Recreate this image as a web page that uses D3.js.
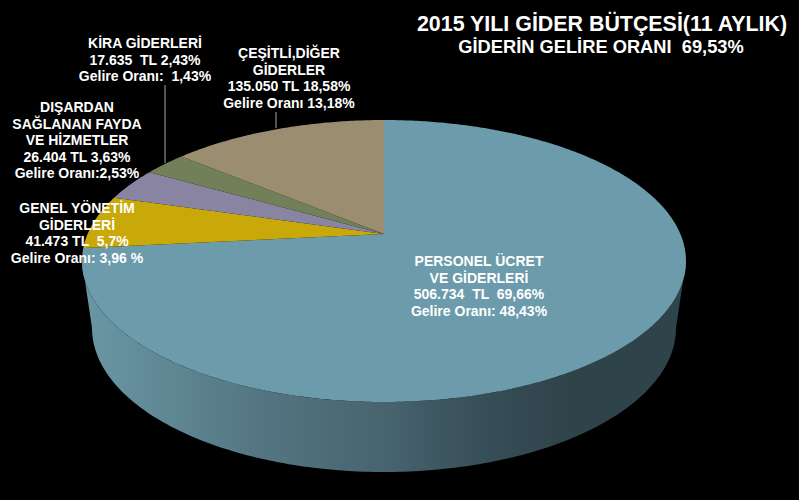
<!DOCTYPE html>
<html>
<head>
<meta charset="utf-8">
<script src="https://cdn.jsdelivr.net/npm/d3@7"></script>
<style>
  html, body { margin: 0; padding: 0; background: #000; }
  text { font-family: "Liberation Sans", Arial, sans-serif; fill: #fff; white-space: pre; }
</style>
</head>
<body>
<div id="chart-area"></div>
<script>
let categories = ["PERSONEL", "GENEL", "DISARDAN", "KIRA", "CESITLI"]
// wedge shares as drawn in the picture (they differ a bit from the printed percentages)
let shares = [73.39, 6.14, 3.78, 2.75, 13.94]
let colors = ["#6c9bab", "#c9a90a", "#8a84a3", "#728059", "#9b8e70"]

let titleLines = ["2015 YILI GİDER BÜTÇESİ(11 AYLIK)", "GİDERİN GELİRE ORANI  69,53%"]
let labelLines = [
    ["PERSONEL ÜCRET", "VE GİDERLERİ", "506.734  TL  69,66%", "Gelire Oranı: 48,43%"],
    ["GENEL YÖNETİM", "GİDERLERİ", "41.473 TL  5,7%", "Gelire Oranı: 3,96 %"],
    ["DIŞARDAN", "SAĞLANAN FAYDA", "VE HİZMETLER", "26.404 TL 3,63%", "Gelire Oranı:2,53%"],
    ["KİRA GİDERLERİ", "17.635  TL 2,43%", "Gelire Oranı:  1,43%"],
    ["ÇEŞİTLİ,DİĞER", "GİDERLER", "135.050 TL 18,58%", "Gelire Oranı 13,18%"]
]

let width = 799
let height = 500

// where each label block goes: centre x, y of first line
let labelPos = [[479, 261], [77, 208], [77, 107], [145, 43], [289, 53]]
let leaders = [[165, 85, 165, 163], [276, 112, 276, 128]]
let lineGap = 16.6

// perspective of the pie top: apex is above the middle of the ellipse
let apexX = 384, apexY = 234
let k = 0.1915, a = 296.4, b = 135.8

function project(angle, r) {
    let u = Math.sin(angle) * r
    let v = Math.cos(angle) * r
    let w = 1 + k * v
    return [apexX + a * u / w, apexY - b * v / w]
}

let svg = d3.select("#chart-area")
            .append("svg")
            .attr("width", width)
            .attr("height", height)
            .style("display", "block")

let defs = svg.append("defs")
let grad = defs.append("linearGradient")
            .attr("id", "wall")
            .attr("gradientUnits", "userSpaceOnUse")
            .attr("x1", 82).attr("x2", 686).attr("y1", 0).attr("y2", 0)
grad.append("stop").attr("offset", "0").attr("stop-color", "#6a97a5")
grad.append("stop").attr("offset", "0.3").attr("stop-color", "#537581")
grad.append("stop").attr("offset", "0.5").attr("stop-color", "#47646f")
grad.append("stop").attr("offset", "0.65").attr("stop-color", "#38505a")
grad.append("stop").attr("offset", "0.8").attr("stop-color", "#2f434a")
grad.append("stop").attr("offset", "1").attr("stop-color", "#2f434a")

let line = d3.line()

// side wall: front half of the top rim joined to the front half of the base rim
let rimAngles = d3.range(90, 270.5, 1).map(d => d * Math.PI / 180)
let topRim = rimAngles.map(t => [384 + 302 * Math.sin(t), 261 - 141 * Math.cos(t)])
let baseRim = rimAngles.map(t => [384 + 292 * Math.sin(t), 328 - 144 * Math.cos(t)]).reverse()
svg.append("path")
    .attr("d", line(topRim.concat(baseRim)) + "Z")
    .attr("fill", "url(#wall)")

// wedges
let pie = d3.pie().sort(null).startAngle(0).endAngle(2 * Math.PI)
let arcs = pie(shares)

svg.selectAll(".slice")
    .data(arcs)
    .enter()
    .append("path")
    .attr("class", "slice")
    .attr("fill", (d, i) => colors[i])
    .attr("d", d => {
        let n = Math.ceil((d.endAngle - d.startAngle) * 90)
        let pts = d3.range(n + 1).map(i => project(d.startAngle + (d.endAngle - d.startAngle) * i / n, 1))
        return line([[apexX, apexY]].concat(pts)) + "Z"
    })

svg.selectAll(".leader")
    .data(leaders)
    .enter()
    .append("line")
    .attr("class", "leader")
    .attr("x1", d => d[0]).attr("y1", d => d[1])
    .attr("x2", d => d[2]).attr("y2", d => d[3])
    .attr("stroke", "#a6a6a6")
    .attr("stroke-width", 1)

// labels
labelLines.forEach((lines, i) => {
    svg.selectAll(".label" + i)
        .data(lines)
        .enter()
        .append("text")
        .attr("class", "label" + i)
        .attr("x", labelPos[i][0])
        .attr("y", (d, j) => labelPos[i][1] + j * lineGap)
        .attr("dy", "0.36em")
        .attr("text-anchor", "middle")
        .attr("font-size", 14)
        .attr("font-weight", "bold")
        .text(d => d)
})

svg.append("text")
    .attr("x", 602).attr("y", 23).attr("dy", "0.36em")
    .attr("text-anchor", "middle")
    .attr("font-size", 21.4).attr("font-weight", "bold")
    .text(titleLines[0])
svg.append("text")
    .attr("x", 601).attr("y", 46).attr("dy", "0.36em")
    .attr("text-anchor", "middle")
    .attr("font-size", 18.3).attr("font-weight", "bold")
    .text(titleLines[1])
</script>
</body>
</html>
